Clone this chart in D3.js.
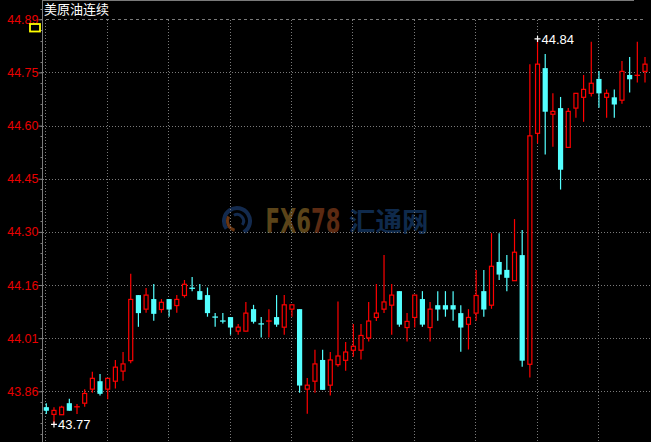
<!DOCTYPE html>
<html><head><meta charset="utf-8">
<script src="https://cdn.jsdelivr.net/npm/d3@7"></script>
<style>html,body{margin:0;padding:0;background:#000;overflow:hidden}</style>
</head><body><svg id="c" width="651" height="442"></svg>
<script>
// ---- data ----
const title = "美原油连续";
const openV = [43.818,43.798,43.797,43.829,43.819,43.829,43.868,43.890,43.868,43.890,43.918,43.947,44.129,44.090,44.118,44.089,44.118,44.100,44.128,44.148,44.140,44.129,44.068,44.057,44.068,44.029,44.029,44.090,44.049,44.057,44.068,44.040,44.090,44.090,43.868,43.890,43.949,43.879,43.936,43.948,43.976,43.976,44.010,44.067,44.090,44.101,44.140,44.039,44.067,44.118,44.039,44.101,44.101,44.101,44.079,44.048,44.079,44.140,44.101,44.221,44.199,44.169,44.240,43.937,44.578,44.759,44.631,44.648,44.539,44.648,44.678,44.689,44.729,44.678,44.678,44.670,44.740,44.739,44.750];
const highV = [43.829,43.818,43.822,43.841,43.827,43.868,43.916,43.910,43.898,43.949,43.971,44.188,44.129,44.149,44.160,44.118,44.118,44.129,44.171,44.179,44.160,44.150,44.079,44.079,44.068,44.049,44.110,44.102,44.068,44.090,44.129,44.129,44.102,44.090,43.899,43.977,43.977,43.971,44.111,43.999,44.049,44.049,44.110,44.160,44.240,44.160,44.140,44.079,44.129,44.140,44.110,44.140,44.140,44.140,44.101,44.090,44.199,44.199,44.301,44.301,44.240,44.340,44.310,44.770,44.840,44.798,44.689,44.679,44.648,44.689,44.740,44.832,44.751,44.700,44.700,44.779,44.790,44.832,44.790];
const lowV = [43.799,43.770,43.797,43.808,43.799,43.819,43.858,43.850,43.840,43.870,43.891,43.940,44.041,44.080,44.058,44.080,44.069,44.080,44.122,44.140,44.116,44.069,44.041,44.050,44.019,44.019,44.029,44.050,44.011,44.011,44.041,44.019,44.069,43.858,43.800,43.858,43.866,43.850,43.930,43.919,43.958,43.950,44.000,44.057,44.079,44.019,44.041,44.000,44.039,44.041,44.000,44.058,44.069,44.058,43.972,43.978,44.058,44.069,44.091,44.171,44.140,44.169,43.930,43.900,44.550,44.519,44.541,44.422,44.539,44.621,44.610,44.680,44.649,44.621,44.621,44.660,44.691,44.719,44.719];
const closeV = [43.808,43.809,43.818,43.808,43.819,43.856,43.898,43.855,43.898,43.929,43.938,44.117,44.079,44.129,44.077,44.109,44.089,44.117,44.159,44.146,44.116,44.079,44.067,44.056,44.039,44.040,44.079,44.055,44.048,44.057,44.047,44.102,44.102,43.878,43.879,43.938,43.866,43.949,43.960,43.971,43.987,44.017,44.057,44.079,44.110,44.129,44.047,44.056,44.129,44.047,44.090,44.089,44.089,44.089,44.039,44.067,44.128,44.089,44.209,44.186,44.177,44.248,43.947,44.571,44.770,44.638,44.639,44.477,44.639,44.689,44.700,44.717,44.689,44.689,44.658,44.750,44.728,44.739,44.770];
const gridValues = [43.862,44.0095,44.157,44.3045,44.452,44.5995,44.747,44.8945];
const minorStep = 0.0295;

const candles = openV.map((o,i)=>({i, o, h:highV[i], l:lowV[i], c:closeV[i]}));

// ---- layout ----
const W=651, H=442;
const RED="#ff0000", CYAN="#54ffff", GRID="#7a7a7a";
const svg = d3.select("#c");
svg.append("rect").attr("width",W).attr("height",H).attr("fill","#000");

const y = d3.scaleLinear().domain([gridValues[0], gridValues[gridValues.length-1]]).range([391.3,19.3]);
const x = d3.scaleLinear().domain([0, candles.length-1]).range([46.3,645]);

// watermark
const wm = svg.append("g");
const lc = [237,221];
wm.append("path").attr("d", d3.arc()({innerRadius:11,outerRadius:15,startAngle:-2.2,endAngle:2.6}))
  .attr("transform",`translate(${lc})`).attr("fill","#132a4e");
wm.append("path").attr("d", d3.arc()({innerRadius:8,outerRadius:11,startAngle:3.4,endAngle:5.2}))
  .attr("transform",`translate(${lc})`).attr("fill","#6a3510");
wm.append("path").attr("d", d3.arc()({innerRadius:5,outerRadius:8,startAngle:-0.5,endAngle:2.2}))
  .attr("transform",`translate(${lc})`).attr("fill","#132a4e");
const fx = wm.append("text").attr("transform","translate(265.5,233) scale(1,1.4)")
  .attr("font-family","DejaVu Sans Condensed, DejaVu Sans").attr("font-weight","bold").attr("font-size",23.5);
fx.append("tspan").attr("fill","#5b4419").text("FX6");
fx.append("tspan").attr("fill","#5c2a12").text("78");
wm.append("text").attr("x",349).attr("y",231).attr("font-family","Noto Sans CJK SC").attr("font-weight","bold")
  .attr("font-size",26.5).attr("fill","#0f2a4c").text("汇通网");

// top border
svg.append("line").attr("x1",42).attr("x2",634).attr("y1",0.5).attr("y2",0.5).attr("stroke",GRID);

// horizontal grid
gridValues.forEach((v,k)=>{
  const top = k===gridValues.length-1;
  svg.append("line").attr("x1", top?46:43).attr("x2", top?644:651)
    .attr("y1", Math.round(y(v))+0.5).attr("y2", Math.round(y(v))+0.5)
    .attr("stroke", GRID).attr("stroke-dasharray", top?"3,3":"1,2");
});
// vertical grid
d3.range(0, candles.length, 8).forEach(i=>{
  const xx = Math.round(x(i))-0.5;
  svg.append("line").attr("x1",xx).attr("x2",xx).attr("y1",20).attr("y2",H)
    .attr("stroke",GRID).attr("stroke-dasharray","1,2");
});

// axis
const ax = svg.append("g").attr("transform","translate(42.5,0)")
  .call(d3.axisLeft(y).tickValues(gridValues).tickFormat(d3.format(".2f")).tickSize(4).tickPadding(0));
ax.select(".domain").remove();
ax.selectAll(".tick line").attr("stroke",GRID);
ax.selectAll(".tick text").attr("fill","#e80000").attr("font-family","Liberation Sans, Arial").attr("font-size",12.5);
svg.append("line").attr("x1",42.5).attr("x2",42.5).attr("y1",0).attr("y2",H).attr("stroke",GRID);
const vMin = y.invert(H), vMax = y.invert(0);
const k0 = Math.ceil((vMin-gridValues[0])/minorStep), k1 = Math.floor((vMax-gridValues[0])/minorStep);
d3.range(k0,k1+1).forEach(k=>{
  const yy = Math.round(y(gridValues[0]+k*minorStep))+0.5;
  svg.append("line").attr("x1",40.5).attr("x2",42.5).attr("y1",yy).attr("y2",yy).attr("stroke",GRID);
});

// title and marker
svg.append("text").attr("x",44).attr("y",14).attr("fill","#fff").attr("font-family","Noto Sans CJK SC")
  .attr("font-size",13).text(title);
svg.append("rect").attr("x",30).attr("y",24).attr("width",10).attr("height",7.5)
  .attr("fill","#000").attr("stroke","#ffff00").attr("stroke-width",1.8);

// candles
const g = svg.append("g");
candles.forEach(d=>{
  const up = d.c >= d.o;
  const col = up?RED:CYAN;
  const cx = x(d.i);
  g.append("line").attr("x1",cx).attr("x2",cx).attr("y1",y(d.h)).attr("y2",y(d.l)).attr("stroke",col).attr("stroke-width",1.2);
  const yt = y(Math.max(d.o,d.c)), yb = y(Math.min(d.o,d.c));
  if (yb-yt < 1.5) {
    g.append("line").attr("x1",cx-2.8).attr("x2",cx+2.8).attr("y1",yt).attr("y2",yt).attr("stroke",col).attr("stroke-width",1.3);
  } else if (up) {
    g.append("rect").attr("x",cx-2).attr("y",yt).attr("width",4).attr("height",yb-yt)
      .attr("fill","#000").attr("stroke",RED).attr("stroke-width",1.2);
  } else {
    g.append("rect").attr("x",cx-2.6).attr("y",yt).attr("width",5.2).attr("height",yb-yt).attr("fill",CYAN);
  }
});

// extreme annotations
function mark(i, v){
  const cx = x(i), cy = y(v);
  svg.append("path").attr("d",`M${cx-3},${cy}H${cx+3}M${cx},${cy-3}V${cy+3}`).attr("stroke","#fff").attr("stroke-width",1.2);
  svg.append("text").attr("x",cx+4).attr("y",cy).attr("dy","0.36em").attr("fill","#fff")
    .attr("font-family","Liberation Sans, Arial").attr("font-size",13).text(d3.format(".2f")(v));
}
const hiI = d3.maxIndex(highV), loI = d3.minIndex(lowV);
mark(hiI, highV[hiI]);
mark(loI, lowV[loI]);
</script></body></html>
